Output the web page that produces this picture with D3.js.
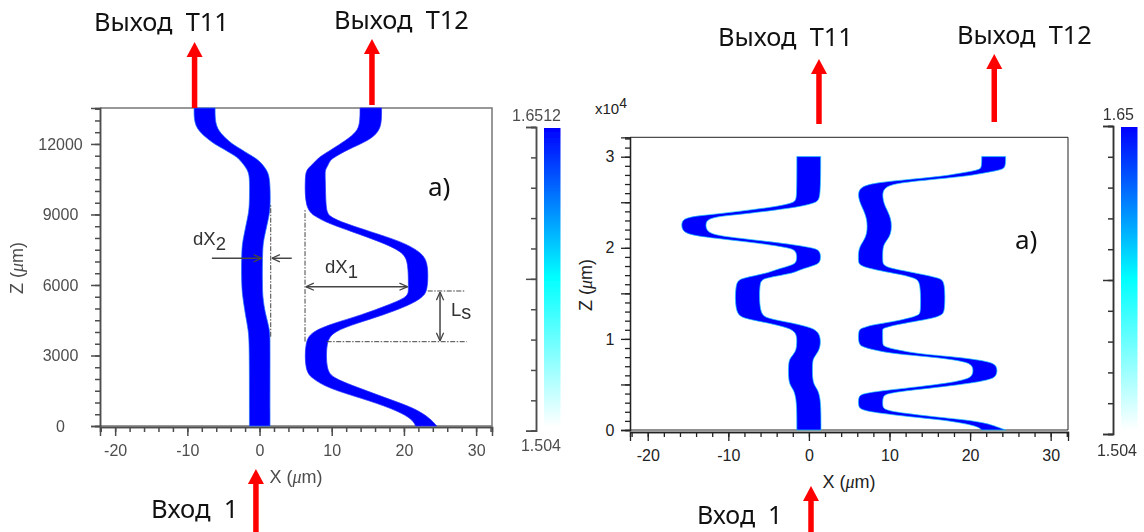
<!DOCTYPE html>
<html>
<head>
<meta charset="utf-8">
<script src="https://cdn.jsdelivr.net/npm/d3@7"></script>
<style>
  html, body { margin: 0; padding: 0; background: #fff; }
  svg { display: block; }
</style>
</head>
<body>
<div class="holder"></div>
<script>
"use strict";

// left chart, guide T11: z (um), left edge and right edge (um)
const leftG1Z = [0, 3500, 4085, 4800, 5500, 6000, 7500, 8000, 8500, 9000, 9400, 10468, 10894, 11319, 11461, 11886, 12028, 12454, 12879, 13530];
const leftG1L = [-1.4, -1.4, -1.55, -2.0, -2.33, -2.5, -2.5, -2.24, -1.91, -1.55, -1.4, -1.35, -1.55, -2.76, -3.16, -5.58, -6.39, -8.2, -9.07, -9.07];
const leftG1R = [1.45, 1.45, 1.46, 0.76, 0.44, 0.39, 0.39, 0.62, 0.99, 1.36, 1.5, 1.46, 1.09, -0.16, -0.91, -3.16, -3.9, -5.47, -6.16, -6.16];

// left chart, guide T12
const leftG2Z = [0, 327, 752, 1178, 1603, 2028, 2383, 3590, 4015, 4370, 4725, 5150, 5505, 5788, 6993, 7419, 7844, 8270, 8624, 8908, 9262, 10610, 10894, 11036, 11319, 11461, 11745, 12170, 12524, 12879, 13530];
const leftG2L = [21.63, 21.08, 18.31, 14.15, 9.54, 7.23, 6.3, 6.3, 7.23, 10.23, 14.15, 17.85, 20.62, 20.62, 20.62, 19.79, 16.69, 12.77, 9.54, 7.69, 6.3, 6.3, 6.53, 6.99, 7.92, 8.38, 9.86, 12.07, 13.46, 13.92, 13.92];
const leftG2R = [24.54, 23.62, 21.54, 17.62, 13.92, 10.23, 9.23, 9.21, 10.23, 13.46, 17.15, 20.85, 22.7, 23.3, 23.39, 22.23, 19.69, 15.31, 11.85, 9.54, 9.17, 9.1, 9.07, 9.4, 9.77, 10.55, 12.07, 15.3, 16.46, 16.9, 16.9];

// right chart, guide T11
const rightG1Z = [0, 3900, 4760, 5490, 7320, 7900, 8600, 9520, 10800, 11340, 11890, 12260, 12810, 16300, 16650, 17200, 17570, 18120, 18480, 19580, 19950, 20310, 20680, 21050, 21410, 21960, 22870, 23240, 23500, 23790, 24160, 24520, 24960, 25440, 30010];
const rightG1L = [-1.5, -1.5, -2.26, -2.55, -2.55, -2.35, -1.6, -1.5, -1.5, -3.0, -5.9, -8.14, -9.17, -9.15, -8.34, -5.24, -4.26, -1.93, -1.5, -1.5, -2.19, -4.68, -7.98, -11.6, -14.9, -15.8, -15.8, -15.37, -13.93, -10.62, -7.3, -4.05, -1.72, -1.5, -1.5];
const rightG1R = [1.5, 1.5, 0.76, 0.43, 0.43, 0.55, 1.2, 1.5, 1.3, 0.0, -2.9, -5.24, -6.15, -6.15, -5.65, -1.93, -1.26, 0.96, 1.46, 1.46, 0.81, -1.68, -4.98, -8.6, -11.9, -12.8, -12.8, -12.27, -10.62, -7.3, -4.0, -1.05, 0.96, 1.46, 1.46];

// right chart, guide T12
const rightG2Z = [0, 366, 732, 1098, 1464, 1830, 2196, 2745, 3660, 4026, 4392, 4758, 5124, 5490, 5856, 7137, 7503, 7869, 8125, 8418, 8784, 9150, 9516, 10980, 11163, 11529, 11895, 12261, 12627, 12993, 16287, 16653, 17019, 17385, 17751, 18117, 18483, 19764, 20496, 21411, 23241, 24522, 25437, 26535, 27084, 27450, 27816, 28182, 28548, 28731, 30012];
const rightG2L = [21.44, 21.02, 19.16, 16.7, 12.4, 8.9, 6.34, 6.13, 6.13, 6.7, 9.9, 13.7, 17.09, 19.16, 20.4, 20.4, 19.3, 16.7, 13.7, 10.2, 8.05, 6.55, 6.13, 6.13, 6.55, 7.7, 10.48, 12.34, 13.7, 13.87, 13.87, 13.16, 11.72, 9.4, 7.38, 6.26, 6.13, 6.13, 6.55, 7.25, 7.25, 6.55, 6.13, 6.13, 7.7, 11.7, 16.27, 18.75, 21.02, 21.44, 21.44];
const rightG2R = [24.41, 23.3, 22.06, 19.7, 15.4, 11.9, 9.24, 9.15, 9.15, 9.7, 12.9, 16.7, 19.99, 22.26, 23.38, 23.38, 22.3, 19.7, 16.7, 13.2, 11.05, 9.24, 9.15, 9.15, 9.15, 10.7, 12.96, 15.44, 16.47, 16.89, 16.89, 16.27, 14.41, 12.4, 10.06, 9.24, 9.15, 9.15, 9.32, 10.27, 10.27, 9.44, 9.15, 9.15, 10.7, 14.7, 19.16, 21.64, 23.71, 24.41, 24.41];

// axis ticks
const leftXMajor = [-20, -10, 0, 10, 20, 30];
const leftZMajor = [0, 3000, 6000, 9000, 12000];
const rightXMajor = [-20, -10, 0, 10, 20, 30];
const rightZMajor = [0, 5000, 10000, 15000, 20000, 25000, 30000];
const rightZLabels = { 0: "0", 10000: "1", 20000: "2", 30000: "3" };

// colour bars
const barStops = ["#ffffff", "#80ffff", "#00ffff", "#0080ff", "#0000ff"];
const leftBarRange = [1.504, 1.6512];
const rightBarRange = [1.504, 1.65];

const w = 1144;
const h = 532;
const arrowRed = "#ff0000";
const tickFont = "'Liberation Sans', Arial, sans-serif";
const noteFont = "'Noto Sans', 'Open Sans', sans-serif";

const svg = d3
  .select(".holder")
  .append("svg")
  .attr("width", w)
  .attr("height", h);

const defs = svg.append("defs");
defs
  .append("filter")
  .attr("id", "soft")
  .attr("x", "-5%")
  .attr("y", "-5%")
  .attr("width", "110%")
  .attr("height", "110%")
  .append("feGaussianBlur")
  .attr("stdDeviation", 0.4);

const barGradient = defs
  .append("linearGradient")
  .attr("id", "bar-gradient")
  .attr("x1", "0%")
  .attr("y1", "100%")
  .attr("x2", "0%")
  .attr("y2", "0%");
barStops.forEach((c, i) => {
  barGradient
    .append("stop")
    .attr("offset", (i * 100) / (barStops.length - 1) + "%")
    .attr("stop-color", c);
});

const drawGuide = (g, zs, ls, rs, x, z, edge) => {
  const area = d3
    .area()
    .y((d, i) => z(zs[i]))
    .x0((d, i) => x(ls[i]))
    .x1((d, i) => x(rs[i]))
    .curve(d3.curveBasis);
  g.append("path")
    .attr("d", area(zs))
    .attr("fill", "#0000ff")
    .attr("stroke", edge)
    .attr("stroke-width", 0.7);
};

const drawAxes = (g, opt) => {
  const { x, z, xMajor, zMajor, xMinor, zMinor, axisY, color, zFormat } = opt;
  const x0 = x.range()[0];
  const x1 = x.range()[1];
  const yBottom = z.range()[0];
  const yTop = z.range()[1];

  // frame
  g.append("path")
    .attr("d", "M" + x0 + "," + yTop + "H" + x1 + "V" + yBottom + "H" + x0)
    .attr("fill", "none")
    .attr("stroke", opt.frame)
    .attr("stroke-width", opt.frameWidth);

  const zMinorAxis = d3.axisLeft(z).tickValues(zMinor).tickSize(opt.minorLen).tickFormat("");
  const zMajorAxis = d3.axisLeft(z).tickValues(zMajor).tickSize(opt.majorLen).tickFormat(zFormat);
  const xMinorAxis = d3.axisBottom(x).tickValues(xMinor).tickSize(opt.minorLen).tickFormat("");
  const xMajorAxis = d3.axisBottom(x).tickValues(xMajor).tickSize(opt.majorLen).tickPadding(opt.xPad).tickFormat((d) => String(d));

  const zLabels = g.append("g").attr("transform", "translate(" + x0 + ",0)").call(zMajorAxis);
  zLabels.selectAll("text").attr("text-anchor", "middle").attr("x", opt.zLabelX);

  [
    g.append("g").attr("transform", "translate(" + x0 + ",0)").call(zMinorAxis),
    zLabels,
    g.append("g").attr("transform", "translate(0," + axisY + ")").call(xMinorAxis),
    g.append("g").attr("transform", "translate(0," + axisY + ")").call(xMajorAxis),
  ].forEach((a) => {
    a.selectAll("path, line").attr("stroke", color).attr("stroke-width", opt.axisWidth);
    a.selectAll("text")
      .attr("font-family", tickFont)
      .attr("font-size", 16)
      .attr("fill", color);
  });
};

const drawBar = (g, range, yLo, yHi, axisX, barX, labelTop, labelLow, color) => {
  const scale = d3.scaleLinear().domain(range).range([yLo, yHi]);
  const step = (range[1] - range[0]) / 10;
  const minor = d3.range(11).map((i) => range[0] + i * step);
  const axis = d3.axisLeft(scale).tickValues(minor).tickSize(5).tickFormat("");
  const big = d3
    .axisLeft(scale)
    .tickValues([range[0], range[0] + 5 * step, range[1]])
    .tickSize(10)
    .tickFormat("");
  [
    g.append("g").attr("transform", "translate(" + axisX + ",0)").call(axis),
    g.append("g").attr("transform", "translate(" + axisX + ",0)").call(big),
  ].forEach((a) => {
    a.selectAll("path, line").attr("stroke", color).attr("stroke-width", 1.5);
  });
  g.append("rect")
    .attr("x", barX)
    .attr("y", yHi + 1)
    .attr("width", 16.5)
    .attr("height", yLo - yHi - 5)
    .attr("fill", "url(#bar-gradient)");
  [labelTop, labelLow].forEach((l) => {
    g.append("text")
      .attr("x", l.x)
      .attr("y", l.y)
      .attr("text-anchor", "end")
      .attr("font-family", tickFont)
      .attr("font-size", 16)
      .attr("fill", color)
      .text(l.text);
  });
};

const drawArrow = (g, x, tip, end) => {
  g.append("path")
    .attr("d", "M" + (x - 8) + "," + (tip + 15) + "L" + x + "," + tip + "L" + (x + 8) + "," + (tip + 15) + "Z")
    .attr("fill", arrowRed);
  g.append("line")
    .attr("x1", x)
    .attr("x2", x)
    .attr("y1", tip + 14)
    .attr("y2", end)
    .attr("stroke", arrowRed)
    .attr("stroke-width", 5.5);
};

const note = (g, text, x, y, size) => {
  g.append("text")
    .attr("x", x)
    .attr("y", y)
    .attr("font-family", noteFont)
    .attr("font-size", size)
    .attr("fill", "#111")
    .style("white-space", "pre")
    .text(text);
};

const axisTitle = (g, x, y, rotate, color) => {
  const t = g
    .append("text")
    .attr("font-family", tickFont)
    .attr("font-size", 18)
    .attr("fill", color)
    .attr("text-anchor", "middle")
    .attr("transform", "translate(" + x + "," + y + ") rotate(" + rotate + ")");
  t.append("tspan").text(rotate ? "Z (" : "X (");
  t.append("tspan").attr("font-family", "'Liberation Serif', serif").attr("font-style", "italic").text("μ");
  t.append("tspan").text("m)");
};

// ---- left chart ----
const leftX = d3.scaleLinear().domain([-22.1, 32.2]).range([100, 492]);
const leftZ = d3.scaleLinear().domain([0, 13530]).range([426, 108]);
const gray = "#4d4d4d";
const leftChart = svg.append("g").attr("filter", "url(#soft)");

drawAxes(leftChart, {
  x: leftX,
  z: leftZ,
  xMajor: leftXMajor,
  zMajor: leftZMajor,
  xMinor: d3.range(-22, 33, 2),
  zMinor: d3.range(0, 13501, 500),
  axisY: 427,
  color: gray,
  zFormat: (d) => String(d),
  zLabelX: -39.5,
  frame: "#777",
  frameWidth: 1.5,
  axisWidth: 1.5,
  minorLen: 5,
  majorLen: 9,
  xPad: 9,
});
drawGuide(leftChart, leftG1Z, leftG1L, leftG1R, leftX, leftZ, "#1e6cff");
drawGuide(leftChart, leftG2Z, leftG2L, leftG2R, leftX, leftZ, "#1e30ff");

// construction lines of the left chart
const dashed = [
  [1.55, 1.55, 3800, 9400],
  [6.3, 6.3, 3590, 9190],
  [23.3, 28.5, 5744, 5744],
  [9.3, 28.7, 3587, 3587],
];
leftChart
  .selectAll("line.construction")
  .data(dashed)
  .enter()
  .append("line")
  .attr("class", "construction")
  .attr("x1", (d) => leftX(d[0]))
  .attr("x2", (d) => leftX(d[1]))
  .attr("y1", (d) => leftZ(d[2]))
  .attr("y2", (d) => leftZ(d[3]))
  .attr("stroke", "#444")
  .attr("stroke-width", 1)
  .attr("stroke-dasharray", "5,1.5,1.5,1.5");

defs
  .append("marker")
  .attr("id", "open-head")
  .attr("viewBox", "0 0 10 10")
  .attr("refX", 10)
  .attr("refY", 5)
  .attr("markerWidth", 9)
  .attr("markerHeight", 9)
  .attr("markerUnits", "userSpaceOnUse")
  .attr("orient", "auto-start-reverse")
  .append("path")
  .attr("d", "M1,1L10,5L1,9")
  .attr("fill", "none")
  .attr("stroke", "#444")
  .attr("stroke-width", 1.4);

const arrowsLeft = [
  { from: [-6.6, 7136], to: [0.3, 7136], both: false },
  { from: [4.46, 7136], to: [1.7, 7136], both: false },
  { from: [6.4, 5927], to: [20.5, 5927], both: true },
  { from: [25, 5700], to: [25, 3620], both: true },
];
arrowsLeft.forEach((a) => {
  leftChart
    .append("line")
    .attr("x1", leftX(a.from[0]))
    .attr("y1", leftZ(a.from[1]))
    .attr("x2", leftX(a.to[0]))
    .attr("y2", leftZ(a.to[1]))
    .attr("stroke", "#444")
    .attr("stroke-width", 1.5)
    .attr("marker-end", "url(#open-head)")
    .attr("marker-start", a.both ? "url(#open-head)" : null);
});

const subLabel = (g, main, sub, x, y, subSize, dy) => {
  const t = g
    .append("text")
    .attr("x", x)
    .attr("y", y)
    .attr("font-family", tickFont)
    .attr("font-size", 18.5)
    .attr("fill", "#333");
  t.append("tspan").text(main);
  t.append("tspan").attr("dy", dy).attr("font-size", subSize).text(sub);
};
subLabel(leftChart, "dX", "2", 193, 245, 18.5, 5);
subLabel(leftChart, "dX", "1", 325, 273, 18.5, 5);
subLabel(leftChart, "L", "s", 451, 316, 20, 3);

axisTitle(leftChart, 296, 483, 0, gray);
axisTitle(leftChart, 23, 268, -90, gray);

drawBar(
  leftChart,
  leftBarRange,
  430.7,
  127,
  536,
  544,
  { text: "1.6512", x: 561, y: 121 },
  { text: "1.504", x: 561, y: 451 },
  gray
);

// ---- right chart ----
const rightX = d3.scaleLinear().domain([-22.2, 32.15]).range([630, 1068]);
const rightZ = d3.scaleLinear().domain([0, 32130]).range([430, 137.3]);
const rightChart = svg.append("g");

drawAxes(rightChart, {
  x: rightX,
  z: rightZ,
  xMajor: rightXMajor,
  zMajor: rightZMajor,
  xMinor: d3.range(-22, 33, 2),
  zMinor: d3.range(0, 32001, 1000),
  axisY: 432,
  color: "#222",
  zFormat: (d) => rightZLabels[d] || "",
  zLabelX: -20,
  frame: "#222",
  frameWidth: 1,
  axisWidth: 1.3,
  minorLen: 5,
  majorLen: 9,
  xPad: 9,
});
drawGuide(rightChart, rightG1Z, rightG1L, rightG1R, rightX, rightZ, "#20c8ff");
drawGuide(rightChart, rightG2Z, rightG2L, rightG2R, rightX, rightZ, "#20c8ff");

axisTitle(rightChart, 849, 488, 0, "#222");
axisTitle(rightChart, 592, 285, -90, "#222");

const power = rightChart
  .append("text")
  .attr("x", 595)
  .attr("y", 114)
  .attr("font-family", tickFont)
  .attr("font-size", 15)
  .attr("fill", "#222");
power.append("tspan").text("x10");
power.append("tspan").attr("dy", -6).attr("font-size", 14).text("4");

drawBar(
  rightChart,
  rightBarRange,
  434,
  126,
  1113,
  1121,
  { text: "1.65", x: 1134, y: 120 },
  { text: "1.504", x: 1137, y: 456 },
  "#333"
);

// ---- arrows and captions ----
const overlay = svg.append("g");
drawArrow(overlay, leftX(-9.0), 42, 108);
drawArrow(overlay, leftX(15.57), 39, 105);
drawArrow(overlay, leftX(-0.5), 469, 532);
drawArrow(overlay, rightX(1.25), 59, 124);
drawArrow(overlay, rightX(23.0), 54, 122);
drawArrow(overlay, rightX(0.26), 486, 532);

note(overlay, "Выход  T11", 94, 31, 25.4);
note(overlay, "Выход  T12", 334, 29, 25.4);
note(overlay, "Выход  T11", 718, 46, 25.4);
note(overlay, "Выход  T12", 957, 44, 25.4);
note(overlay, "Вход  1", 151, 518, 25.6);
note(overlay, "Вход  1", 697, 524, 25);
note(overlay, "a)", 428, 196, 26);
note(overlay, "a)", 1015, 249, 26);
</script>
</body>
</html>
